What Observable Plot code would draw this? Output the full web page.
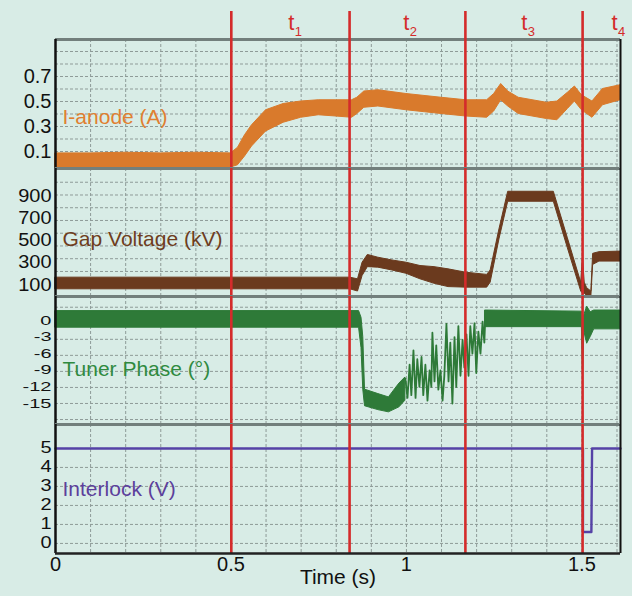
<!DOCTYPE html>
<html><head><meta charset="utf-8">
<script src="https://cdn.jsdelivr.net/npm/d3@7"></script>
<script src="https://cdn.jsdelivr.net/npm/@observablehq/plot@0.6"></script>
<style>
body{margin:0;background:#d8ece6;font-family:"Liberation Sans",Arial,sans-serif;}
#chart{width:632px;}
#chart svg{display:block;overflow:visible;}
</style></head><body><div id="chart"></div>
<script>
// ---- time axis ----
const timeDomain = [0, 1.61];
const timeTicks = [0, 0.5, 1, 1.5];
const gridTimes = [0.1,0.2,0.3,0.4,0.5,0.6,0.7,0.8,0.9,1.0,1.1,1.2,1.3,1.4,1.5,1.6];
const markerTimes = [0.501, 0.838, 1.168, 1.502];
const markerNames = ["1","2","3","4"];
const markerLabelTimes = [0.672, 1.0, 1.336, 1.593];

// ---- I-anode (A): noise band lower / upper envelope ----
const anodeT  = [0,0.1,0.2,0.3,0.4,0.5,0.52,0.54,0.56,0.6,0.65,0.7,0.75,0.8,0.845,0.86,0.88,0.92,1.0,1.1,1.17,1.23,1.25,1.27,1.29,1.32,1.4,1.43,1.46,1.48,1.5,1.53,1.56,1.61];
const anodeLo = [-0.028,-0.028,-0.028,-0.028,-0.028,-0.028,-0.01,0.06,0.14,0.26,0.33,0.37,0.39,0.38,0.37,0.40,0.45,0.46,0.43,0.40,0.38,0.37,0.42,0.51,0.46,0.40,0.36,0.35,0.44,0.50,0.43,0.37,0.47,0.51];
const anodeHi = [0.085,0.085,0.09,0.085,0.09,0.085,0.13,0.23,0.31,0.43,0.48,0.50,0.51,0.51,0.51,0.53,0.58,0.59,0.56,0.53,0.51,0.51,0.56,0.64,0.58,0.53,0.49,0.50,0.57,0.62,0.55,0.50,0.60,0.63];
const anodeTicks = [0.1, 0.3, 0.5, 0.7];
const anodeGrid = [0,0.1,0.2,0.3,0.4,0.5,0.6,0.7,0.8,0.9];

// ---- Gap Voltage (kV) ----
const gapT  = [0,0.84,0.862,0.875,0.89,0.92,0.96,1.0,1.04,1.08,1.12,1.17,1.23,1.24,1.265,1.29,1.42,1.46,1.498,1.503,1.508,1.515,1.527,1.532,1.55,1.61];
const gapLo = [60,60,40,180,260,255,230,200,150,110,80,75,75,120,510,850,850,430,40,20,20,0,-5,280,310,310];
const gapHi = [165,165,150,300,370,345,320,300,270,260,240,210,190,230,600,940,940,520,120,350,120,70,40,380,395,400];
const gapTicks = [100, 300, 500, 700, 900];
const gapGrid = [106,221,336,451,566,681,796,911,1026];

// ---- Tuner Phase (deg) ----
const tunerT1  = [0,0.865,0.872,0.877,0.882,0.92,0.95,0.98,0.997];
const tunerLo1 = [-1.3,-1.3,-5,-12.5,-15.5,-16.2,-16.6,-15.7,-14.5];
const tunerHi1 = [1.7,1.7,0.5,-3,-12.5,-13.3,-13.9,-11.4,-10.3];
const tunerZigT = [0.997,1.003,1.009,1.014,1.020,1.026,1.031,1.037,1.043,1.048,1.054,1.060,1.066,1.071,1.074,1.080,1.085,1.091,1.097,1.103,1.108,1.114,1.120,1.125,1.131,1.137,1.142,1.148,1.154,1.160,1.165,1.171,1.177,1.182,1.188,1.194,1.199,1.205,1.211,1.217,1.222,1.225];
const tunerZigV = [-10.5,-14,-8,-13.5,-5.4,-14,-7,-12,-6.6,-13.5,-8,-14.5,-9,-12,-2.2,-11,-4.5,-12.5,-9,-14.5,-10,-0.6,-11,-4,-15,-3,-12,-1,-10,-3.5,-8.5,-2.5,-10,-1,-6,-0.5,-9.5,-2,-6,-0.2,-4,1];
const tunerT2  = [1.225,1.5,1.503,1.507,1.515,1.525,1.535,1.61];
const tunerLo2 = [-1.2,-1.2,-10,-2,-4.2,-3,-1.6,-1.6];
const tunerHi2 = [1.8,1.6,0,1,2.5,1.5,1.8,1.8];
const tunerTicks = [0,-3,-6,-9,-12,-15];
const tunerGrid = [2.4,-0.5,-3.4,-6.3,-9.2,-12.1,-15.0,-17.9];

// ---- Interlock (V) ----
const lockT = [0,1.503,1.503,1.527,1.529,1.61];
const lockV = [5,5,0.6,0.6,5,5];
const lockTicks = [0,1,2,3,4,5];
const lockGrid = [0,1,2,3,4,5];

// ---- colours ----
const RED = "#d42b2b", GRID = "#8e9b98", SEP = "#727f7c";
const band = (T, L, H) => T.map((t, i) => ({t, lo: L[i], hi: H[i]}));
const pts = (T, V) => T.map((t, i) => ({t, v: V[i]}));

function panel({height, marginTop = 0, marginBottom = 0, domain, ticks, grid, marks, label, labelColor, labelY, xAxis = false, redTop = null, bottomBlack = false}) {
  const redOpts = redTop === null ? {stroke: RED, strokeWidth: 2.6}
    : {x: d => d, y1: () => redTop, y2: () => domain[0], stroke: RED, strokeWidth: 2.6};
  return Plot.plot({
    width: 632, height, marginLeft: 55, marginRight: 12, marginTop, marginBottom,
    style: {fontSize: "20px", fontFamily: "Liberation Sans, Arial, sans-serif", color: "#111", background: "transparent", overflow: "visible"},
    x: {domain: timeDomain, axis: xAxis ? "bottom" : null, ticks: timeTicks, tickFormat: d => String(d), tickSize: 0, tickPadding: 3, label: null},
    y: {domain, ticks, tickFormat: d => String(d), tickSize: 0, tickPadding: 4, label: null},
    marks: [
      Plot.ruleY(grid, {stroke: GRID, strokeDasharray: "3,2", strokeWidth: 1}),
      Plot.ruleX(gridTimes, {stroke: GRID, strokeDasharray: "3,2", strokeWidth: 1}),
      Plot.ruleY([domain[1]], {stroke: SEP, strokeWidth: 3}),
      ...marks,
      Plot.text([label], {x: () => 0.02, y: () => labelY, textAnchor: "start", fill: labelColor, fontSize: 21}),
      Plot.ruleX(markerTimes, redOpts),
      Plot.ruleX([0], {stroke: "#111", strokeWidth: 2.5}),
      Plot.ruleX([timeDomain[1]], {stroke: "#111", strokeWidth: 2}),
      ...(bottomBlack ? [Plot.ruleY([domain[0]], {stroke: "#222", strokeWidth: 2.5})] : [])
    ]
  });
}

// squeeze y tick labels vertically (as in the reference) so they do not collide
function squeezeTicks(svg, s) {
  svg.querySelectorAll('g[aria-label="y-axis tick label"] text').forEach(t => {
    const b = t.getBBox();
    const cy = b.y + b.height / 2;
    const prev = t.getAttribute("transform") || "";
    t.setAttribute("transform", `${prev} translate(0,${cy}) scale(1,${s}) translate(0,${-cy})`);
  });
}

const chart = document.getElementById("chart");

// Panel 1: I-anode
const p1 = panel({
  height: 168, marginTop: 39, domain: [-0.036, 0.996], ticks: anodeTicks, grid: anodeGrid,
  label: "I-anode (A)", labelColor: "#e07f30", labelY: 0.372, redTop: 1.22,
  marks: [
    Plot.areaY(band(anodeT, anodeLo, anodeHi), {x: "t", y1: "lo", y2: "hi", fill: "#d97a2c", stroke: "#d97a2c", strokeWidth: 1}),
    Plot.text(markerLabelTimes, {x: d => d, y: () => 1.13, text: () => "t", fill: RED, fontSize: 22}),
    Plot.text(markerLabelTimes, {x: d => d, y: () => 1.13, text: (d, i) => markerNames[i], dx: 7, dy: 9, fill: RED, fontSize: 13})
  ]
});
chart.append(p1);

// Panel 2: Gap voltage
const p2 = panel({
  height: 128, domain: [-5, 1150], ticks: gapTicks, grid: gapGrid,
  label: "Gap Voltage (kV)", labelColor: "#6e3d20", labelY: 513,
  marks: [
    Plot.areaY(band(gapT, gapLo, gapHi), {x: "t", y1: "lo", y2: "hi", fill: "#6b3a1e", stroke: "#6b3a1e", strokeWidth: 1})
  ]
});
chart.append(p2);
squeezeTicks(p2, 0.9);

// Panel 3: Tuner phase
const p3 = panel({
  height: 128, domain: [-18.8, 4.34], ticks: tunerTicks, grid: tunerGrid,
  label: "Tuner Phase (°)", labelColor: "#2f8a3f", labelY: -8.86,
  marks: [
    Plot.areaY(band(tunerT1, tunerLo1, tunerHi1), {x: "t", y1: "lo", y2: "hi", fill: "#2e7a38", stroke: "#2e7a38", strokeWidth: 1}),
    Plot.lineY(pts(tunerZigT, tunerZigV), {x: "t", y: "v", stroke: "#2e7a38", strokeWidth: 1.8}),
    Plot.areaY(band(tunerT2, tunerLo2, tunerHi2), {x: "t", y1: "lo", y2: "hi", fill: "#2e7a38", stroke: "#2e7a38", strokeWidth: 1})
  ]
});
chart.append(p3);
squeezeTicks(p3, 0.68);

// Panel 4: Interlock
const p4 = panel({
  height: 172, marginBottom: 43, domain: [-0.53, 6.26], ticks: lockTicks, grid: lockGrid,
  label: "Interlock (V)", labelColor: "#5c3f9c", labelY: 2.84, xAxis: true, bottomBlack: true,
  marks: [
    Plot.lineY(pts(lockT, lockV), {x: "t", y: "v", stroke: "#5542a6", strokeWidth: 2.4}),
    Plot.text(["Time (s)"], {frameAnchor: "bottom", dy: 30, fontSize: 21, fill: "#111"})
  ]
});
chart.append(p4);
squeezeTicks(p4, 0.78);
</script></body></html>
